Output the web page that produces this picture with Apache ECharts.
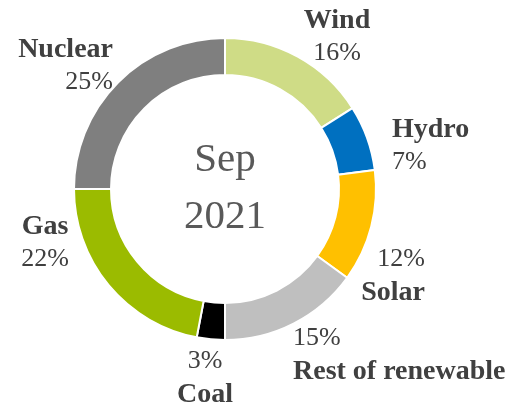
<!DOCTYPE html>
<html>
<head>
<meta charset="utf-8">
<script src="https://cdn.jsdelivr.net/npm/echarts@6/dist/echarts.min.js"></script>
<style>
  html, body { margin: 0; padding: 0; background: #fff; }
  #chart { width: 512px; height: 404px; }
</style>
</head>
<body>
<div id="chart"></div>
<script>
// data, clockwise from 12 o'clock
var sources = ['Wind', 'Hydro', 'Solar', 'Rest of renewable', 'Coal', 'Gas', 'Nuclear'];
var shares = [16, 7, 12, 15, 3, 22, 25];
var nameOnTop = [true, true, false, false, false, true, true];
var colors = ['#cfdc86', '#0070c0', '#ffc000', '#bfbfbf', '#000000', '#9bbb00', '#7f7f7f'];
var centerLines = ['Sep', '2021'];

// where each label sits (x, y, align)
var labelSpots = [
  [337, 37, 'center'],
  [392, 146, 'left'],
  [425, 276, 'right'],
  [293, 355, 'left'],
  [205, 378, 'center'],
  [45, 243, 'center'],
  [113, 66, 'right']
];

var chart = echarts.init(document.getElementById('chart'));

var pieData = sources.map(function (s, i) {
  return { name: s, value: shares[i], itemStyle: { color: colors[i] } };
});

var option = {
  animation: false,
  graphic: [{
    type: 'text',
    x: 225,
    y: 189,
    style: {
      text: centerLines.join('\n'),
      font: '41px "Liberation Serif"',
      fill: '#595959',
      align: 'center',
      verticalAlign: 'middle',
      lineHeight: 57
    }
  }],
  series: [{
    type: 'pie',
    center: [225, 189],
    radius: [114, 151],
    startAngle: 90,
    clockwise: true,
    avoidLabelOverlap: false,
    itemStyle: { borderColor: '#fff', borderWidth: 2 },
    label: {
      show: true,
      position: 'outside',
      formatter: function (p) {
        var i = p.dataIndex;
        return nameOnTop[i]
          ? '{n|' + p.name + '}\n{v|' + p.value + '%}'
          : '{v|' + p.value + '%}\n{n|' + p.name + '}';
      },
      rich: {
        n: { fontFamily: 'Liberation Serif', fontWeight: 'bold', fontSize: 28, color: '#404040', lineHeight: 33 },
        v: { fontFamily: 'Liberation Serif', fontSize: 26, color: '#404040', lineHeight: 33 }
      }
    },
    labelLine: { show: false },
    labelLayout: function (params) {
      var s = labelSpots[params.dataIndex];
      return { x: s[0], y: s[1], align: s[2], verticalAlign: 'middle' };
    },
    data: pieData
  }]
};

chart.setOption(option);
</script>
</body>
</html>
